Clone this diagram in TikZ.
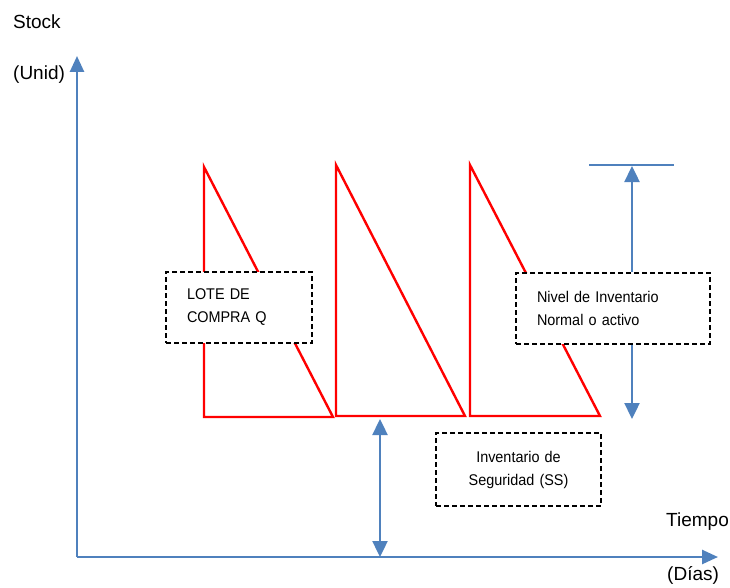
\documentclass[tikz,border=0pt]{standalone}
\usepackage{fontspec}
\setmainfont{Liberation Sans}
\newfontfamily\boxfont[FakeStretch=0.93]{Liberation Sans}
\usetikzlibrary{arrows.meta}
\definecolor{axisblue}{HTML}{4F81BD}
\definecolor{sawred}{HTML}{FF0000}
\tikzset{
  axis/.style={draw=axisblue, line width=2.6pt, -{Triangle[length=16pt,width=14pt]}},
  dimarrow/.style={draw=axisblue, line width=2.4pt, -{Triangle[length=16pt,width=15pt]}},
  dimboth/.style={draw=axisblue, line width=2.4pt, {Triangle[length=16pt,width=15pt]}-{Triangle[length=16pt,width=15pt]}},
  refline/.style={draw=axisblue, line width=1.4pt},
  saw/.style={draw=sawred, line width=2.4pt, line join=miter},
  axlabel/.style={font=\fontsize{19}{22}\selectfont, inner sep=0pt},
  infobox/.style={draw=black, fill=white, dash pattern=on 5pt off 3pt, line width=1.5pt,
    font=\boxfont\fontsize{15.5}{23}\selectfont, inner ysep=0pt}
}
\begin{document}
\begin{tikzpicture}[x=1pt,y=-1pt]
\useasboundingbox (0,0) rectangle (730,588);
% axes
\coordinate (O) at (77,557);
\coordinate (Ytip) at (77,56);
\coordinate (Xtip) at (718,557);
\draw[axis] (O) -- (Ytip);
\draw[axis] (O) -- (Xtip);
\node[axlabel, anchor=west] (stock) at (13,22) {Stock};
\node[axlabel, anchor=west] (unid) at (13,75) {(Unid)};
\node[axlabel, anchor=west] (tiempo) at (666,522) {Tiempo};
\node[axlabel, anchor=west] (dias) at (667,575) {(Días)};
% sawtooth
\coordinate (a1) at (204,167); \coordinate (b1) at (204,417); \coordinate (c1) at (333,417);
\coordinate (a2) at (336,165); \coordinate (b2) at (336,416); \coordinate (c2) at (465,416);
\coordinate (a3) at (470,165); \coordinate (b3) at (470,416); \coordinate (c3) at (600,416);
\draw[saw] (a1) -- (b1) -- (c1) -- cycle;
\draw[saw] (a2) -- (b2) -- (c2) -- cycle;
\draw[saw] (a3) -- (b3) -- (c3) -- cycle;
% boxes
\node[infobox, minimum width=146pt, minimum height=71pt, inner xsep=21pt, text width=104pt, align=left]
  (lote) at (239,307.5) {LOTE DE\\COMPRA Q};
\node[infobox, minimum width=194pt, minimum height=71pt, inner xsep=21pt, text width=152pt, align=left]
  (nivel) at (613,308.5) {Nivel de Inventario\\Normal o activo};
\node[infobox, minimum width=165pt, minimum height=73pt, inner xsep=10pt, text width=145pt, align=center]
  (ss) at (518.5,469.5) {Inventario de\\Seguridad (SS)};
% reference line and dimension arrows
\coordinate (topL) at (589,165);
\coordinate (topR) at (674,165);
\coordinate (upTip) at (632,166);
\coordinate (downTip) at (632,419);
\draw[refline] (topL) -- (topR);
\draw[dimarrow] (nivel.north -| upTip) -- (upTip);
\draw[dimarrow] (nivel.south -| downTip) -- (downTip);
\coordinate (ssTop) at (380,419);
\coordinate (ssBot) at (380,557);
\draw[dimboth] (ssTop) -- (ssBot);
\end{tikzpicture}
\end{document}
